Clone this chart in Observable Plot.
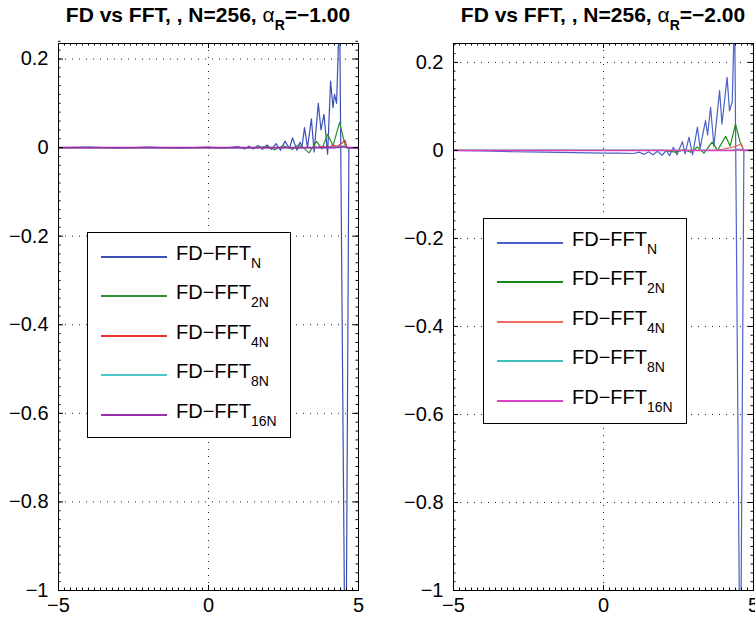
<!DOCTYPE html>
<html><head><meta charset="utf-8">
<script src="https://cdn.jsdelivr.net/npm/d3@7"></script>
<script src="https://cdn.jsdelivr.net/npm/@observablehq/plot@0.6"></script>
<style>
html,body{margin:0;padding:0;background:#fff;}
#fig{position:relative;width:755px;height:622px;overflow:hidden;font-family:"Liberation Sans",Arial,Helvetica,sans-serif;color:#000;background:#fff;}
.panel{position:absolute;top:0;z-index:1;}
.panel svg{max-width:none;display:block;}
.title{position:absolute;top:5px;font-weight:bold;font-size:21px;line-height:20px;white-space:nowrap;transform:translateX(-50%);z-index:2;}
.title .al{font-weight:normal;}
.title sub{font-size:14px;vertical-align:-8px;line-height:0;}
.legend{position:absolute;border:1px solid #000;background:#fff;z-index:3;box-sizing:border-box;}
.sw{position:absolute;left:13px;width:66px;height:2px;}
.lt{position:absolute;left:88px;font-size:20px;line-height:20px;white-space:nowrap;}
.lt sub{font-size:14px;vertical-align:-8px;line-height:0;}
</style>
</head><body><div id="fig"></div>
<script>
// ---------- data ----------
const seriesNames = ["N", "2N", "4N", "8N", "16N"];
const titleAlphas = ["−1.00", "−2.00"];
const xTickValues = [-5, 0, 5];
const yTickValues = [-1, -0.8, -0.6, -0.4, -0.2, 0, 0.2];

// Left panel, alpha_R = -1
const blueL_x = [-5, -4, -3, -2, -1, 0, 0.5, 1.0, 1.2, 1.35, 1.5, 1.65, 1.8, 1.95, 2.1, 2.25, 2.4, 2.55, 2.7, 2.8, 2.95, 3.05, 3.12, 3.2, 3.3, 3.43, 3.52, 3.66, 3.75, 3.85, 3.97, 4.07, 4.15, 4.2, 4.27, 4.37, 4.57, 4.68, 5];
const blueL_y = [0, 0.001, -0.001, 0.001, -0.001, 0.001, -0.001, 0.002, -0.003, 0.003, -0.003, 0.005, -0.004, 0.006, -0.004, 0.009, -0.006, 0.014, -0.002, 0.022, -0.006, 0.012, 0.003, 0.045, 0.0, 0.065, -0.01, 0.1, 0.04, 0.075, -0.015, 0.15, 0.09, 0.12, 0.1, 0.32, -1.35, 0, 0];
const greenL_x = [-5, 1.5, 2.0, 2.2, 2.5, 2.8, 3.0, 3.15, 3.35, 3.6, 3.78, 3.97, 4.15, 4.37, 4.5, 4.58, 5];
const greenL_y = [0, 0, 0.002, -0.005, 0.004, -0.004, 0.006, 0.0, -0.012, 0.014, -0.003, 0.03, 0.004, 0.057, 0.02, 0, 0];
const redL_x = [-5, 3.5, 3.8, 4.0, 4.15, 4.3, 4.45, 4.55, 4.62, 5];
const redL_y = [0, 0, 0.002, 0.0, 0.005, 0.003, 0.01, 0.017, 0, 0];
const cyanL_x = [-5, 4.0, 4.3, 4.55, 4.62, 5];
const cyanL_y = [0, 0, 0.002, 0.004, 0, 0];
const purpleL_x = [-5, 4.2, 4.5, 4.62, 5];
const purpleL_y = [0, 0, 0.002, 0, 0];

// Right panel, alpha_R = -2
const blueR_x = [-5, -4, -3, -2, -1, 0, 0.5, 1.0, 1.2, 1.35, 1.5, 1.65, 1.8, 1.95, 2.1, 2.2, 2.33, 2.45, 2.63, 2.72, 2.85, 2.97, 3.13, 3.22, 3.4, 3.47, 3.57, 3.68, 3.87, 3.95, 4.12, 4.2, 4.29, 4.37, 4.56, 4.68, 5];
const blueR_y = [0, -0.001, -0.003, -0.004, -0.005, -0.006, -0.006, -0.007, -0.004, -0.009, -0.003, -0.01, -0.002, -0.011, 0.0, -0.012, 0.007, -0.01, 0.02, -0.008, 0.03, -0.01, 0.053, 0.005, 0.068, 0.035, 0.098, 0.01, 0.136, 0.06, 0.166, 0.09, 0.11, 0.32, -1.3, 0, 0];
const greenR_x = [-5, 2.0, 2.4, 2.7, 2.9, 3.13, 3.35, 3.62, 3.8, 4.07, 4.22, 4.4, 4.55, 4.67, 5];
const greenR_y = [0, 0, -0.004, 0.002, -0.004, 0.008, -0.006, 0.019, 0.0, 0.032, 0.01, 0.059, 0.02, 0, 0];
const redR_x = [-5, 3.7, 4.0, 4.2, 4.35, 4.5, 4.6, 4.67, 5];
const redR_y = [0, 0, 0.003, 0.006, 0.008, 0.012, 0.015, 0, 0];
const cyanR_x = [-5, 4.2, 4.5, 4.65, 5];
const cyanR_y = [0, 0, 0.003, 0, 0];
const magentaR_x = [-5, 4.4, 4.6, 4.67, 5];
const magentaR_y = [0, 0, 0.002, 0, 0];

const colorsL = ["#3b4fb4", "#2b8f35", "#e8302c", "#4cc6c6", "#9a2fae"];
const colorsR = ["#4a62c8", "#168a18", "#ef6a60", "#3fbfbf", "#d845c4"];

// ---------- drawing ----------
const fig = document.getElementById("fig");
const fmt = d => d === 0 ? "0" : (d < 0 ? "−" : "") + String(Math.abs(d));
const xMinor = d3.ticks(-5, 5, 50);
const yMinor = d3.ticks(-1, 0.24, 62);

function panel({series, colors, yDomain, width, marginLeft, marginRight}) {
  const marginTop = 43, marginBottom = 32, height = 622;
  const plotH = height - marginTop - marginBottom;
  const plotW = width - marginLeft - marginRight;
  const dotted = {stroke: "#222", strokeDasharray: "1,6", strokeWidth: 1};
  const lines = series.map((s, i) =>
    Plot.line(s[0].map((x, j) => ({x, y: s[1][j]})), {x: "x", y: "y", stroke: colors[i], strokeWidth: i === 4 ? 1.6 : 1.2, clip: true}));
  const tk = {stroke: "#000", strokeWidth: 1};
  return Plot.plot({
    width, height, marginTop, marginBottom, marginLeft, marginRight,
    style: {fontFamily: "'Liberation Sans', Arial, Helvetica, sans-serif", fontSize: "20px", color: "#000", background: "transparent", overflow: "visible"},
    x: {domain: [-5, 5], label: null},
    y: {domain: yDomain, label: null},
    marks: [
      Plot.ruleY(yTickValues.filter(v => v > -1), dotted),
      Plot.ruleX([0], dotted),
      ...lines,
      Plot.ruleX(xMinor, {...tk, insetTop: plotH - 2.5}),
      Plot.ruleX(xMinor, {...tk, insetBottom: plotH - 2.5}),
      Plot.ruleX(xTickValues, {...tk, insetTop: plotH - 5}),
      Plot.ruleX(xTickValues, {...tk, insetBottom: plotH - 5}),
      Plot.ruleY(yMinor, {...tk, insetRight: plotW - 2.5}),
      Plot.ruleY(yMinor, {...tk, insetLeft: plotW - 2.5}),
      Plot.ruleY(yTickValues, {...tk, insetRight: plotW - 5}),
      Plot.ruleY(yTickValues, {...tk, insetLeft: plotW - 5}),
      Plot.axisX(xTickValues, {tickSize: 0, tickPadding: 7, tickFormat: fmt, fontSize: 20, label: null}),
      Plot.axisY(yTickValues, {tickSize: 0, tickPadding: 10, tickFormat: fmt, fontSize: 20, label: null}),
      Plot.frame({stroke: "#000", strokeWidth: 1})
    ]
  });
}

function addPanel(left, svg) {
  const d = document.createElement("div");
  d.className = "panel"; d.style.left = left + "px";
  d.appendChild(svg); fig.appendChild(d);
}
function addTitle(cx, alpha) {
  const t = document.createElement("div");
  t.className = "title"; t.style.left = cx + "px";
  t.innerHTML = `FD vs FFT, , N=256, <span class="al">α</span><sub>R</sub>=${alpha}`;
  fig.appendChild(t);
}
function addLegend(left, top, colors) {
  const L = document.createElement("div");
  L.className = "legend";
  L.style.left = left + "px"; L.style.top = top + "px";
  L.style.width = "204px"; L.style.height = "206px";
  seriesNames.forEach((n, i) => {
    const y = Math.round(23 + 39.4 * i);
    const sw = document.createElement("div");
    sw.className = "sw"; sw.style.top = y + "px"; sw.style.background = colors[i];
    const tx = document.createElement("div");
    tx.className = "lt"; tx.style.top = (y - 13) + "px";
    tx.innerHTML = `FD−FFT<sub>${n}</sub>`;
    L.appendChild(sw); L.appendChild(tx);
  });
  fig.appendChild(L);
}

const left = panel({
  series: [[blueL_x, blueL_y], [greenL_x, greenL_y], [redL_x, redL_y], [cyanL_x, cyanL_y], [purpleL_x, purpleL_y]],
  colors: colorsL, yDomain: [-1, 0.235], width: 380, marginLeft: 58, marginRight: 22
});
const right = panel({
  series: [[blueR_x, blueR_y], [greenR_x, greenR_y], [redR_x, redR_y], [cyanR_x, cyanR_y], [magentaR_x, magentaR_y]],
  colors: colorsR, yDomain: [-1, 0.243], width: 375, marginLeft: 73, marginRight: 2
});
addPanel(0, left);
addPanel(380, right);
addTitle(208, titleAlphas[0]);
addTitle(603, titleAlphas[1]);
addLegend(87, 232, colorsL);
addLegend(483, 218, colorsR);
</script>
</body></html>
